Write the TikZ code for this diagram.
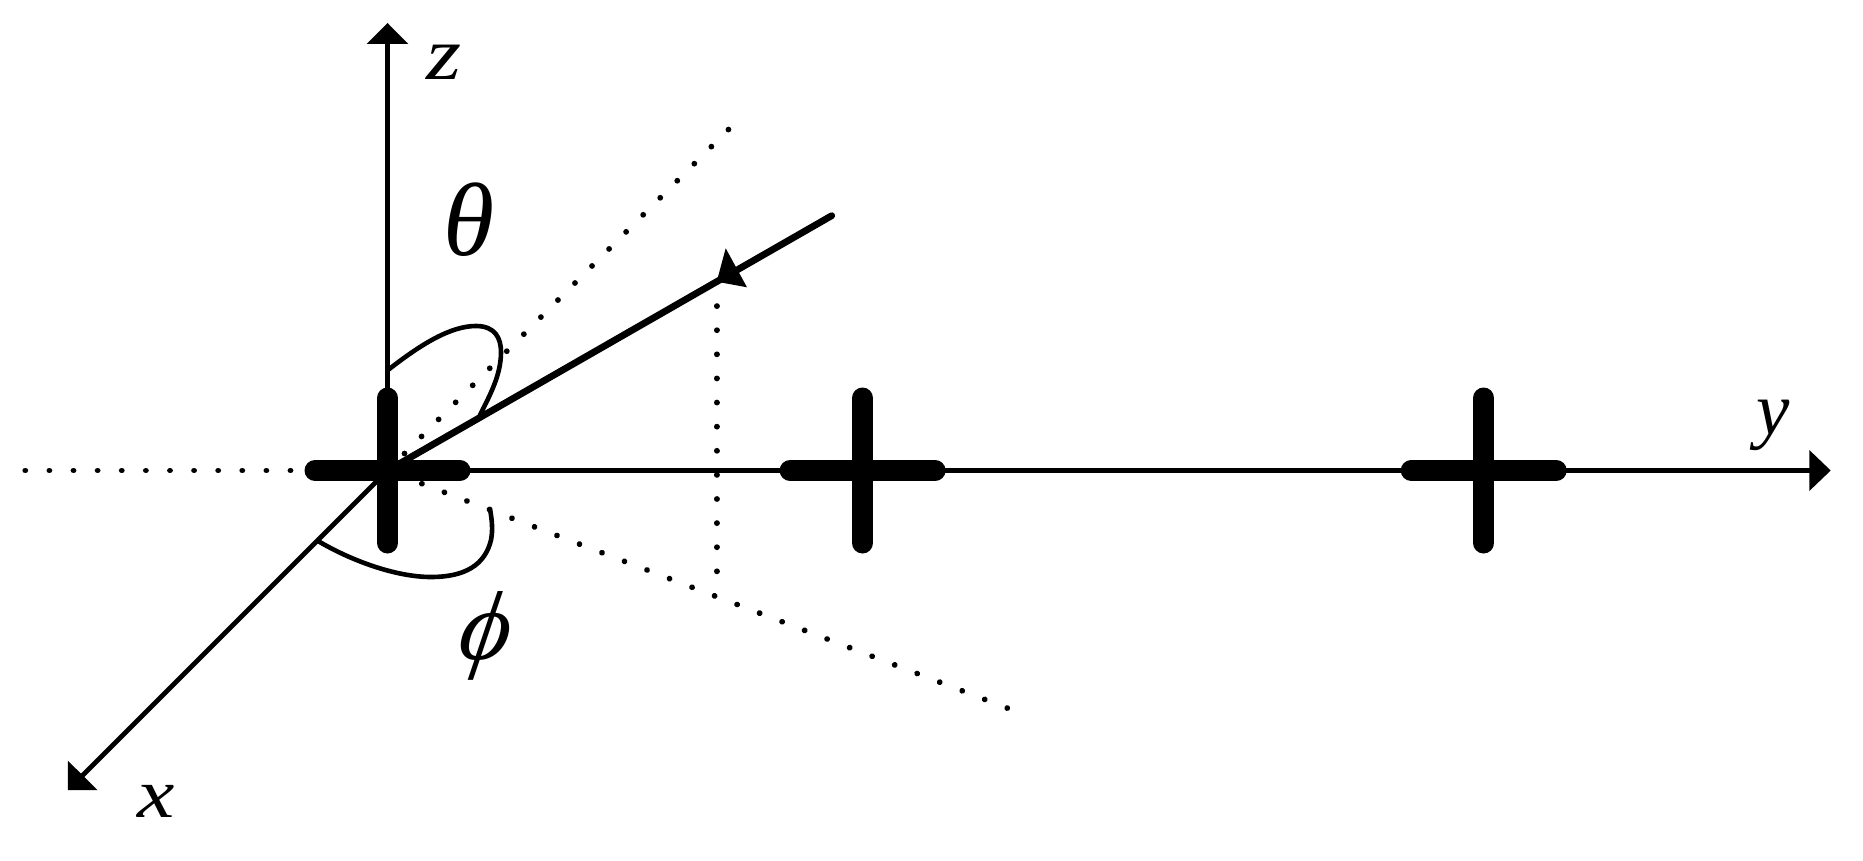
\documentclass[tikz,border=0pt]{standalone}
\usepackage{fontspec}
\setmainfont{Liberation Serif}
\begin{document}
\begin{tikzpicture}[x=1pt,y=-1pt,
  axisline/.style={line width=4.8pt},
  rayline/.style={line width=6.8pt,line cap=round},
  arcline/.style={line width=4.6pt,line cap=round},
  dotline/.style={line width=5.8pt,line cap=round,dash pattern=on 0.01pt off 24.1pt},
  crossbar/.style={line width=21pt,line cap=round},
  headfill/.style={fill=black,draw=none},
  lbl/.style={inner sep=0pt,font=\fontsize{#1}{#1}\selectfont\itshape,transform shape}]
\useasboundingbox (0,0) rectangle (1863,861);
\fill[white] (0,0) rectangle (1863,861);
\coordinate (O) at (387.5,470.5);
\coordinate (ztip) at (387.5,23);
\coordinate (zbase) at (387.5,44);
\coordinate (ytip) at (1830.7,470.5);
\coordinate (ybase) at (1810,470.5);
\coordinate (xtip) at (67.9,790.1);
\coordinate (xbase) at (82,776);
\coordinate (kend) at (831.7,215.7);
% dotted guides
\coordinate (d1a) at (25.3,470.5); \coordinate (d1b) at (292,470.5);
\coordinate (d2a) at (404.5,453.5); \coordinate (d2b) at (730,128);
\coordinate (d3a) at (421.9,483.7); \coordinate (d3b) at (1011,709.5);
\coordinate (d4a) at (716.7,282); \coordinate (d4b) at (716.7,580);
\draw[dotline] (d1a) -- (d1b);
\draw[dotline] (d2a) -- (d2b);
\draw[dotline] (d3a) -- (d3b);
\draw[dotline] (d4a) -- (d4b);
% axes
\draw[axisline] (O) -- (zbase);
\draw[axisline] (O) -- (ybase);
\draw[axisline] (O) -- (xbase);
\fill[headfill] (ztip) -- (366.6,44) -- (408.4,44) -- cycle;
\fill[headfill] (ytip) -- (1809.3,450) -- (1809.3,491) -- cycle;
\fill[headfill] (xtip) -- (67.9,760.7) -- (97.5,790.1) -- cycle;
% incoming ray
\draw[rayline] (O) -- (kend);
\fill[headfill] (716.7,281.7) -- (725.7,248.3) -- (747,287.3) -- cycle;
% angle arcs
\draw[arcline] (388,370) .. controls (420,345) and (450,326) .. (476,326)
  .. controls (495,326) and (501,338) .. (501,352)
  .. controls (501,375) and (490,395) .. (480,415);
\draw[arcline] (490,509) .. controls (492,520) and (493,530) .. (491,540)
  .. controls (485,565) and (465,577) .. (431,577)
  .. controls (395,577) and (350,560) .. (318,541);
% crosses
\foreach \cx in {387.5,862.6,1483.7}{
  \draw[crossbar] (\cx,398) -- (\cx,543);
  \draw[crossbar] (\cx-72.5,470.5) -- (\cx+72.5,470.5);
}
% labels
\node[lbl=75,xscale=1.2] (zlab) at (444,62) {z};
\node[lbl=70,xscale=1.2] (xlab) at (156,801) {x};
\node[lbl=75] (ylab) at (1773,425) {y};
\node[lbl=104] (thetalab) at (468.7,219.5) {θ};
\node[lbl=98,xslant=.16] (philab) at (486,636) {ϕ};
\end{tikzpicture}
\end{document}
